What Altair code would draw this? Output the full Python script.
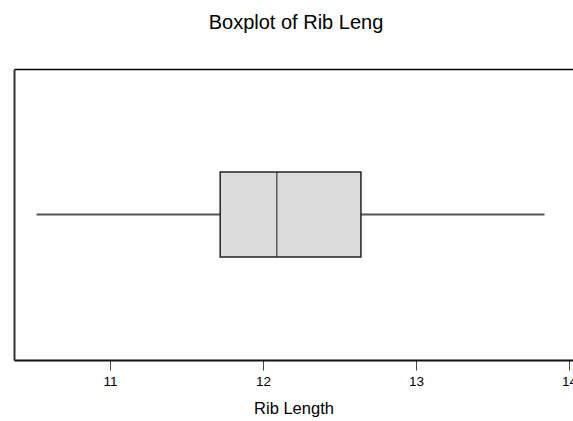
import altair as alt
import pandas as pd

# Data
category = ["Rib Length"]
whisker_low = [10.52]
quartile1 = [11.72]
median = [12.09]
quartile3 = [12.64]
whisker_high = [13.84]
tick_values = [11, 12, 13, 14]
x_domain = [10.3725, 14.026]

df = pd.DataFrame({
    "var": category,
    "lo": whisker_low,
    "q1": quartile1,
    "med": median,
    "q3": quartile3,
    "hi": whisker_high,
})

FONT = "Liberation Sans"
xscale = alt.Scale(domain=x_domain, nice=False, zero=False)
yenc = alt.Y(
    "var:N",
    scale=alt.Scale(paddingInner=0, paddingOuter=0),
    axis=alt.Axis(labels=False, ticks=False, title=None, domainColor="#333333",
                  domainWidth=2, grid=False),
)

whisker = alt.Chart(df).mark_rule(color="#555555", strokeWidth=2).encode(
    x=alt.X(
        "lo:Q",
        scale=xscale,
        title="Rib Length",
        axis=alt.Axis(
            orient="bottom", values=tick_values, format="d", grid=False,
            tickSize=10, tickColor="#444444", tickWidth=1,
            domainColor="#111111", domainWidth=2,
            labelFont=FONT, labelFontSize=13.5, labelColor="#000000",
            labelPadding=4, labelFlush=False, labelOverlap=False,
            titleFont=FONT, titleFontSize=16.5, titleFontWeight="normal",
            titleColor="#000000", titlePadding=13,
        ),
    ),
    x2="hi:Q",
    y=yenc,
)

box = alt.Chart(df).mark_bar(
    fill="#dcdcdc", stroke="#222222", strokeWidth=1.5, size=85
).encode(
    x=alt.X(
        "q1:Q",
        scale=xscale,
        axis=alt.Axis(orient="top", labels=False, ticks=False, title=None,
                      grid=False, domainColor="#000000", domainWidth=1.5),
    ),
    x2="q3:Q",
    y=yenc,
)

med = alt.Chart(df).mark_tick(color="#222222", thickness=1.5, size=85).encode(
    x=alt.X("med:Q", scale=xscale, axis=None),
    y=yenc,
)

chart = (
    alt.layer(whisker, box, med)
    .resolve_axis(x="independent")
    .properties(
        width=559,
        height=291,
        padding={"left": 14, "top": 69, "right": 0, "bottom": 61},
        autosize=alt.AutoSizeParams(type="none"),
        title=alt.TitleParams(
            "Boxplot of Rib Leng", font=FONT, fontSize=20, fontWeight="normal",
            color="#000000", anchor="middle", frame="group", baseline="alphabetic",
            offset=20, dx=2.5,
        ),
        background="#ffffff",
    )
    .configure_view(stroke="transparent")
)

chart.save("out.html", embed_options={"renderer": "svg", "actions": False})
